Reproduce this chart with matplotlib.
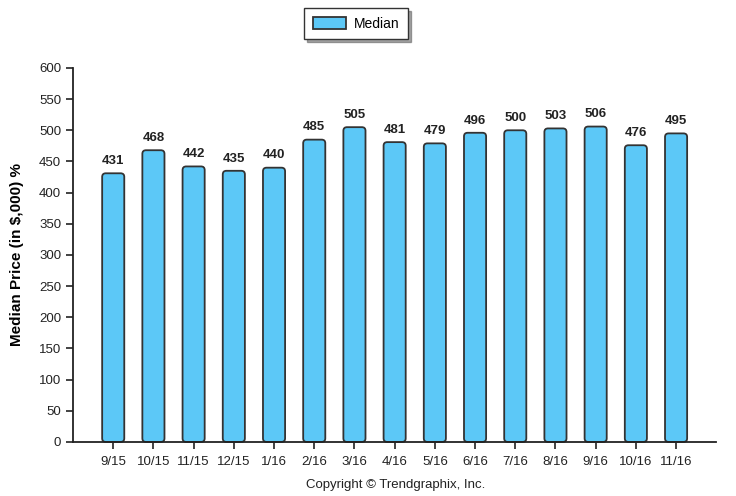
import numpy as np
import matplotlib
matplotlib.use("Agg")
import matplotlib.pyplot as plt
from matplotlib.patches import FancyBboxPatch, Patch

# data
months = ['9/15', '10/15', '11/15', '12/15', '1/16', '2/16', '3/16', '4/16',
          '5/16', '6/16', '7/16', '8/16', '9/16', '10/16', '11/16']
median = [431, 468, 442, 435, 440, 485, 505, 481, 479, 496, 500, 503, 506, 476, 495]
yticks = list(range(0, 601, 50))

BAR_COLOR = '#5CC8F7'
EDGE_COLOR = '#333333'

plt.rcParams['font.family'] = ['Liberation Sans', 'DejaVu Sans']

fig = plt.figure(figsize=(7.36, 4.96), dpi=100)
ax = fig.add_axes([0.0992, 0.109, 0.874, 0.754])

x = np.arange(len(months))
bars = ax.bar(x, median, width=0.55, color=BAR_COLOR, edgecolor=EDGE_COLOR,
              linewidth=1.3, label='Median', zorder=2)

# rounded tops like the original: replace the plain rectangles
for b in bars:
    b.set_visible(False)
    r = FancyBboxPatch((b.get_x(), b.get_y()), b.get_width(), b.get_height(),
                       boxstyle='round,pad=0,rounding_size=0.09',
                       mutation_aspect=64,
                       facecolor=BAR_COLOR, edgecolor=EDGE_COLOR, linewidth=1.3,
                       zorder=2, clip_on=False)
    ax.add_patch(r)

for xi, v in zip(x, median):
    ax.text(xi, v + 10, str(v), ha='center', va='bottom', fontsize=9.5,
            fontweight='bold', color='#222222')

ax.set_xlim(-1, len(months))
ax.set_ylim(0, 600)
ax.set_yticks(yticks)
ax.set_xticks(x)
ax.set_xticklabels(months)
ax.tick_params(axis='both', labelsize=9.5, colors='#222222', length=5, width=1.2)
ax.tick_params(axis='x', pad=5)

for s in ['top', 'right']:
    ax.spines[s].set_visible(False)
for s in ['left', 'bottom']:
    ax.spines[s].set_linewidth(1.3)
    ax.spines[s].set_color('#222222')

ax.set_ylabel('Median Price (in $,000) %', fontsize=11, fontweight='bold', labelpad=11)

leg = fig.legend(handles=[Patch(facecolor=BAR_COLOR, edgecolor=EDGE_COLOR, linewidth=1.3)],
                 labels=['Median'], loc='center', bbox_to_anchor=(0.484, 0.952),
                 fontsize=10, frameon=True, fancybox=False, shadow=True,
                 handlelength=2.4, handleheight=0.9, borderpad=0.6, borderaxespad=0,
                 handletextpad=0.6, edgecolor='#333333')
leg.get_frame().set_linewidth(1.0)

fig.text(0.537, 0.022, 'Copyright \u00a9 Trendgraphix, Inc.', ha='center', va='center',
         fontsize=9.5, color='#222222')

fig.savefig('out.png', dpi=100)
